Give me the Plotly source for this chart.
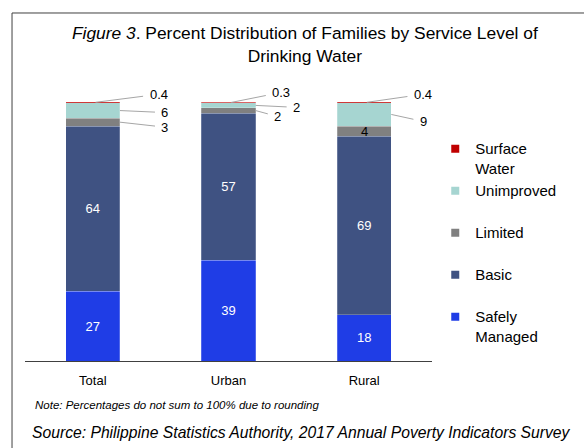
import plotly.graph_objects as go

# Percent distribution of families by drinking-water service level (2017 APIS)
areas = ["Total", "Urban", "Rural"]
safely_managed = [27, 39, 18]
basic = [64, 57, 69]
limited = [3, 2, 4]
unimproved = [6, 2, 9]
surface_water = [0.4, 0.3, 0.4]

series = [
    ("Safely Managed", safely_managed, "#1f3de6"),
    ("Basic", basic, "#3f5282"),
    ("Limited", limited, "#808080"),
    ("Unimproved", unimproved, "#a6d5d1"),
    ("Surface Water", surface_water, "#c00000"),
]
legend_names = {
    "Safely Managed": "Safely<br>Managed",
    "Basic": "Basic<br> ",
    "Limited": "Limited<br> ",
    "Unimproved": "Unimproved<br> ",
    "Surface Water": "Surface<br>Water",
}
inside_labels = {"Safely Managed", "Basic"}

FONT = "Liberation Sans, Arial, sans-serif"

fig = go.Figure()
for name, vals, color in series:
    fig.add_trace(go.Bar(
        x=areas, y=vals, name=name,
        marker=dict(color=color, line=dict(color="rgba(255,255,255,0.45)", width=0.5)),
        width=0.4,
        text=[f"{v:g}" for v in vals] if name in inside_labels else None,
        textposition="inside" if name in inside_labels else "none",
        insidetextanchor="middle",
        textangle=0,
        insidetextfont=dict(family=FONT, size=13, color="white"),
        showlegend=False,
        hoverinfo="skip",
    ))

# legend entries with small square swatches
for name, vals, color in reversed(series):
    fig.add_trace(go.Scatter(
        x=[None], y=[None], mode="markers", name=legend_names[name],
        marker=dict(symbol="square", size=8, color=color),
        showlegend=True,
    ))

# midpoint of a stacked segment, used to anchor value labels
def seg_mid(idx, level):
    below = sum(s[1][idx] for s in series[:level])
    return below + series[level][1][idx] / 2.0

LEADER = "#a6a6a6"
label_font = dict(family=FONT, size=13, color="black")

# (area index, series level, x offset from bar centre, ax, ay)
outside = [
    (0, 4, 0.02, 63, -8),
    (0, 3, 0.2, 45, 2),
    (0, 2, 0.2, 45, 5),
    (1, 4, 0.02, 50, -10),
    (1, 3, 0.2, 41, 2),
    (1, 2, 0.2, 22, 6),
    (2, 4, 0.02, 56, -8),
    (2, 3, 0.2, 32, 7),
]
for i, level, dx, ax, ay in outside:
    fig.add_annotation(
        x=i + dx, y=seg_mid(i, level), xref="x", yref="y",
        text=f"{series[level][1][i]:g}", showarrow=True,
        arrowhead=0, arrowwidth=1, arrowcolor=LEADER,
        ax=ax, ay=ay, startstandoff=5,
        font=label_font,
    )

# Rural "Limited" label sits inside its segment
fig.add_annotation(
    x=2, y=seg_mid(2, 2), xref="x", yref="y",
    text=f"{limited[2]:g}", showarrow=False, font=label_font,
)

# footnotes
fig.add_annotation(
    x=0.02, y=-0.155, xref="paper", yref="paper", xanchor="left", yanchor="middle",
    text="<i>Note: Percentages do not sum to 100% due to rounding</i>",
    showarrow=False, font=dict(family=FONT, size=11.5, color="black"),
)
fig.add_annotation(
    x=0.012, y=-0.2535, xref="paper", yref="paper", xanchor="left", yanchor="middle",
    text="<i>Source: Philippine Statistics Authority, 2017 Annual Poverty Indicators Survey</i>",
    showarrow=False, font=dict(family=FONT, size=15.7, color="black"),
)

# chart frame (left and top edges)
frame = dict(color="#404040", width=1)
fig.add_shape(type="line", xref="paper", yref="paper",
              x0=-0.0319, x1=-0.0319, y0=1.2254, y1=-0.5, line=frame)
fig.add_shape(type="line", xref="paper", yref="paper",
              x0=-0.0319, x1=1.6, y0=1.2254, y1=1.2254, line=frame)

fig.update_layout(
    width=584, height=448,
    margin=dict(l=25, r=152, t=77, b=87),
    barmode="stack",
    paper_bgcolor="white", plot_bgcolor="white",
    font=dict(family=FONT, color="black"),
    title=dict(
        text="<i>Figure 3</i>. Percent Distribution of Families by Service Level of<br>Drinking Water",
        x=0.522, xanchor="center", y=0.912, yanchor="top",
        font=dict(family=FONT, size=17.4, color="black"),
    ),
    xaxis=dict(
        type="category", range=[-0.5, 2.5], showline=True, linecolor="#404040",
        linewidth=1, ticks="", showgrid=False, zeroline=False,
        ticklabelstandoff=7,
        tickfont=dict(family=FONT, size=13, color="black"),
    ),
    yaxis=dict(range=[0, 110], visible=False, showgrid=False),
    legend=dict(
        x=1.008, xanchor="left", y=0.805, yanchor="top",
        font=dict(family=FONT, size=15, color="black"),
        valign="top", itemwidth=30, bgcolor="rgba(0,0,0,0)",
        traceorder="normal",
    ),
)

fig.write_html("out.html")
